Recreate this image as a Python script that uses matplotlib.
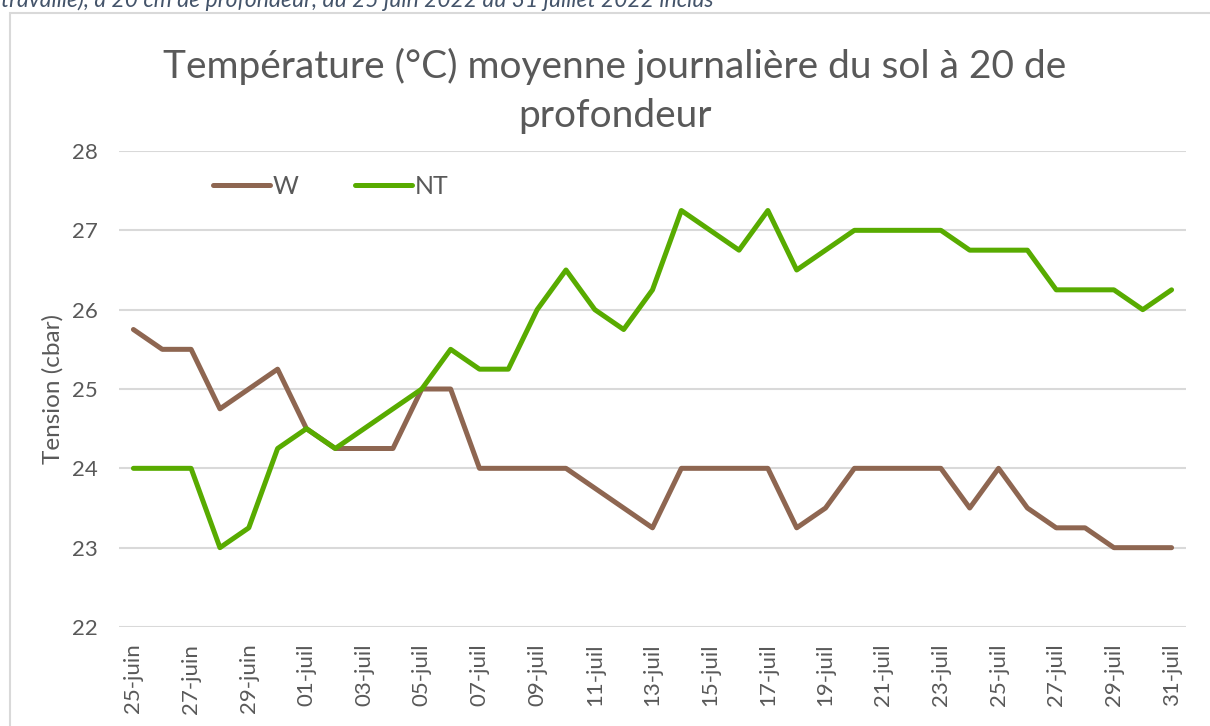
import matplotlib
matplotlib.use('Agg')
import matplotlib.pyplot as plt
from matplotlib.patches import Rectangle
import numpy as np

plt.rcParams['font.family'] = ['Lato', 'DejaVu Sans']

# jours du 25 juin au 31 juillet 2022
jours = ['%02d-juin' % d for d in range(25, 31)] + ['%02d-juil' % d for d in range(1, 32)]

temp_w = [25.75, 25.5, 25.5, 24.75, 25.0, 25.25, 24.5, 24.25, 24.25, 24.25,
          25.0, 25.0, 24.0, 24.0, 24.0, 24.0, 23.75, 23.5, 23.25, 24.0,
          24.0, 24.0, 24.0, 23.25, 23.5, 24.0, 24.0, 24.0, 24.0, 23.5,
          24.0, 23.5, 23.25, 23.25, 23.0, 23.0, 23.0]
temp_nt = [24.0, 24.0, 24.0, 23.0, 23.25, 24.25, 24.5, 24.25, 24.5, 24.75,
           25.0, 25.5, 25.25, 25.25, 26.0, 26.5, 26.0, 25.75, 26.25, 27.25,
           27.0, 26.75, 27.25, 26.5, 26.75, 27.0, 27.0, 27.0, 27.0, 26.75,
           26.75, 26.75, 26.25, 26.25, 26.25, 26.0, 26.25]

gris = '#595959'

fig = plt.figure(figsize=(12.1, 7.26), dpi=100)

# cadre du graphique et légende tronquée au-dessus
fig.patches.append(Rectangle((10 / 1210, -0.1), 1.2, 1 - 13 / 726 + 0.1,
                             transform=fig.transFigure, fill=False,
                             edgecolor='#D9D9D9', linewidth=1.5))
fig.text(1 / 1210, 1 - 7 / 726, 'travaillé), à 20 cm de profondeur, du 25 juin 2022 au 31 juillet 2022 inclus',
         style='italic', fontsize=16.5, color='#44546A', va='baseline', ha='left')

ax = fig.add_axes([119 / 1210, 1 - 627 / 726, (1186 - 119) / 1210, (627 - 151) / 726])
x = np.arange(len(jours))
ax.plot(x, temp_w, color='#8E6651', linewidth=3.6, label='W', solid_capstyle='round')
ax.plot(x, temp_nt, color='#58AB00', linewidth=3.6, label='NT', solid_capstyle='round')

ax.set_xlim(-0.5, len(jours) - 0.5)
ax.set_ylim(22, 28)
ax.set_yticks(range(22, 29))
ax.set_xticks(x[::2])
ax.set_xticklabels(jours[::2], rotation=90)
ax.tick_params(axis='both', length=0, labelsize=16, labelcolor=gris)
ax.tick_params(axis='y', pad=15)
ax.tick_params(axis='x', pad=12)
ax.grid(axis='y', color='#D9D9D9', linewidth=1.5)
ax.set_axisbelow(True)
for s in ax.spines.values():
    s.set_visible(False)
ax.set_ylabel('Tension (cbar)', fontsize=17.5, color=gris, labelpad=6)

fig.text(615 / 1210, 1 - 91 / 726,
         'Température (°C) moyenne journalière du sol à 20 de\nprofondeur',
         ha='center', va='center', fontsize=28, color=gris, linespacing=1.42)

ax.legend(loc='center left', bbox_to_anchor=(0.088, 0.926), ncol=2, frameon=False,
          fontsize=18, labelcolor=gris, handlelength=2.28, handletextpad=0.1,
          columnspacing=2.28, borderpad=0, borderaxespad=0)

plt.savefig('out.png', dpi=100)
